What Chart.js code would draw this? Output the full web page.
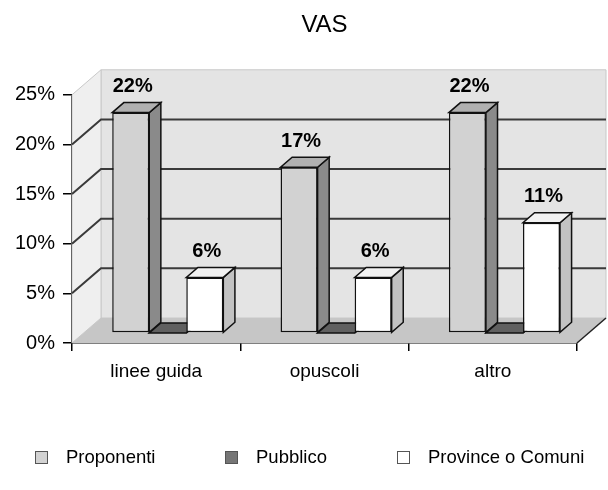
<!DOCTYPE html>
<html>
<head>
<meta charset="utf-8">
<script src="https://cdn.jsdelivr.net/npm/chart.js@4.4.1/dist/chart.umd.min.js"></script>
<style>
  body { margin: 0; background: #fff; }
  #wrap { position: relative; width: 608px; height: 490px; }
  #legend { position: absolute; top: 446px; left: 0; width: 608px; height: 22px;
            font: 18.5px "Liberation Sans", Arial, sans-serif; color: #000; }
  .item { position: absolute; top: 0; height: 22px; display: flex; align-items: center; white-space: nowrap; }
  .box { width: 11px; height: 11px; border: 1px solid #555; margin-right: 18px; }
</style>
</head>
<body>
<div id="wrap">
  <canvas id="chart" width="608" height="490"></canvas>
  <div id="legend"></div>
</div>
<script>
const categories = ['linee guida', 'opuscoli', 'altro'];
const seriesNames = ['Proponenti', 'Pubblico', 'Province o Comuni'];
const proponenti = [22.2, 16.7, 22.2];
const pubblico = [0, 0, 0];
const provinceComuni = [5.6, 5.6, 11.1];
const yTicks = [0, 5, 10, 15, 20, 25];

// 3d look: how far the back wall sits, and where the bars sit in that depth
const WALL = { dx: 29, dy: -25 };
const BAR_FRONT = 0.4;
const BAR_DEPTH = 0.4;

const faces = {
    front: ['#d2d2d2', '#767676', '#ffffff'],
    side: ['#8a8a8a', '#555555', '#c2c2c2'],
    top: ['#b0b0b0', '#606060', '#f2f2f2']
};
const legendX = [35, 225, 397];

Chart.defaults.font.family = '"Liberation Sans", Arial, sans-serif';
Chart.defaults.color = '#000';

function poly(ctx, pts, fill, stroke, lw) {
    ctx.beginPath();
    pts.forEach(([x, y], i) => i ? ctx.lineTo(x, y) : ctx.moveTo(x, y));
    ctx.closePath();
    if (fill) { ctx.fillStyle = fill; ctx.fill(); }
    if (stroke) { ctx.strokeStyle = stroke; ctx.lineWidth = lw || 1; ctx.stroke(); }
}

function line(ctx, pts, color, lw) {
    ctx.beginPath();
    pts.forEach(([x, y], i) => i ? ctx.lineTo(x, y) : ctx.moveTo(x, y));
    ctx.strokeStyle = color;
    ctx.lineWidth = lw;
    ctx.stroke();
}

const box3d = {
    id: 'box3d',
    beforeDatasetsDraw(chart) {
        const { ctx, chartArea: a, scales: { y } } = chart;
        const { dx, dy } = WALL;
        ctx.save();
        // walls and floor
        poly(ctx, [[a.left + dx, a.top + dy], [a.right + dx, a.top + dy], [a.right + dx, a.bottom + dy], [a.left + dx, a.bottom + dy]], '#e4e4e4', '#c8c8c8', 1);
        poly(ctx, [[a.left, a.top], [a.left + dx, a.top + dy], [a.left + dx, a.bottom + dy], [a.left, a.bottom]], '#efefef', '#c8c8c8', 1);
        poly(ctx, [[a.left, a.bottom], [a.right, a.bottom], [a.right + dx, a.bottom + dy], [a.left + dx, a.bottom + dy]], '#c6c6c6', null);
        line(ctx, [[a.right, a.bottom], [a.right + dx, a.bottom + dy]], '#222', 1.5);

        // gridlines on the left and back walls
        y.ticks.forEach(t => {
            if (t.value === 0 || t.value === 25) return;
            const py = y.getPixelForValue(t.value);
            line(ctx, [[a.left, py], [a.left + dx, py + dy], [a.right + dx, py + dy]], '#3a3a3a', 2);
        });

        // side and top faces of the bars
        const fx = dx * BAR_FRONT, fy = dy * BAR_FRONT;
        const bx = dx * BAR_DEPTH, by = dy * BAR_DEPTH;
        categories.forEach((c, i) => {
            chart.data.datasets.forEach((ds, d) => {
                const bar = chart.getDatasetMeta(d).data[i];
                const x1 = bar.x - bar.width / 2 + fx, x2 = bar.x + bar.width / 2 + fx;
                const top = Math.min(bar.y, bar.base) + fy, bot = bar.base + fy;
                poly(ctx, [[x2, top], [x2 + bx, top + by], [x2 + bx, bot + by], [x2, bot]], faces.side[d], '#111', 1.5);
                poly(ctx, [[x1, top], [x2, top], [x2 + bx, top + by], [x1 + bx, top + by]], faces.top[d], '#111', 1.5);
            });
        });
        ctx.restore();

        // chart.js draws the front faces, pushed back into the depth
        ctx.save();
        ctx.translate(fx, fy);
    },
    afterDatasetsDraw(chart) {
        const { ctx } = chart;
        ctx.restore();
        const fx = WALL.dx * BAR_FRONT, fy = WALL.dy * BAR_FRONT;
        const by = WALL.dy * BAR_DEPTH;
        ctx.save();
        ctx.font = 'bold 20px "Liberation Sans", Arial, sans-serif';
        ctx.fillStyle = '#000';
        ctx.textAlign = 'center';
        ctx.textBaseline = 'bottom';
        chart.data.datasets.forEach((ds, d) => {
            chart.getDatasetMeta(d).data.forEach((bar, i) => {
                const v = ds.data[i];
                if (!v) return;
                ctx.fillText(Math.round(v) + '%', bar.x + fx + 2, bar.y + fy + by - 6);
            });
        });
        ctx.restore();
    }
};

new Chart(document.getElementById('chart'), {
    type: 'bar',
    data: {
        labels: categories,
        datasets: [proponenti, pubblico, provinceComuni].map((data, d) => ({
            label: seriesNames[d],
            data,
            backgroundColor: faces.front[d],
            borderColor: '#111',
            borderWidth: 1.5,
            borderSkipped: false,
            barPercentage: 1,
            categoryPercentage: 0.66
        }))
    },
    options: {
        responsive: false,
        animation: false,
        layout: { padding: { left: 0, right: 0, top: 0, bottom: 107 } },
        plugins: {
            legend: { display: false },
            tooltip: { enabled: false },
            title: {
                display: true,
                fullSize: false,
                text: 'VAS',
                font: { size: 24, weight: 'normal' },
                color: '#000',
                padding: { top: 11, bottom: 55 }
            }
        },
        scales: {
            x: {
                offset: true,
                grid: { offset: true, drawOnChartArea: false, tickLength: 8, color: '#000', lineWidth: 1.5 },
                border: { color: '#000', width: 1.5 },
                ticks: { font: { size: 19 }, padding: 9 },
                afterFit: s => { s.height = 40; }
            },
            y: {
                min: 0,
                max: 25,
                afterBuildTicks: s => { s.ticks = yTicks.map(value => ({ value })); },
                grid: { drawOnChartArea: false, tickLength: 9, color: '#000', lineWidth: 1.5 },
                border: { color: '#000', width: 1.5 },
                ticks: { font: { size: 20 }, padding: 8, callback: v => v + '%' },
                afterFit: s => { s.width = 72; }
            },
            yRight: {
                position: 'right',
                grid: { display: false },
                border: { display: false },
                ticks: { display: false },
                afterFit: s => { s.width = 31; }
            }
        }
    },
    plugins: [box3d]
});

// legend as html, in the bars' own colours
const legend = document.getElementById('legend');
seriesNames.forEach((name, d) => {
    const item = document.createElement('div');
    item.className = 'item';
    item.style.left = legendX[d] + 'px';
    item.innerHTML = `<span class="box" style="background:${faces.front[d]}"></span><span>${name}</span>`;
    legend.appendChild(item);
});
</script>
</body>
</html>
